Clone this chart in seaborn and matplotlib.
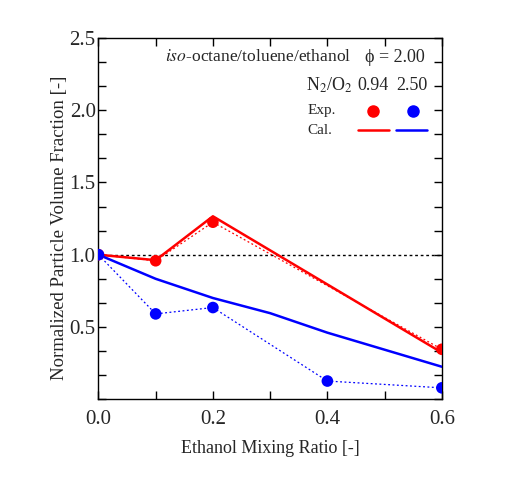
import matplotlib
matplotlib.use("Agg")
import matplotlib.pyplot as plt
import seaborn as sns
import pandas as pd
from matplotlib.ticker import MultipleLocator

sns.set_style("ticks")
plt.rcParams['font.family'] = ['Liberation Serif', 'DejaVu Serif']
plt.rcParams['mathtext.fontset'] = 'stix'

# Data
exp_x_094 = [0.0, 0.1, 0.2, 0.6]
exp_y_094 = [1.0, 0.958, 1.225, 0.345]
cal_x_094 = [0.0, 0.1, 0.2, 0.6]
cal_y_094 = [1.0, 0.962, 1.266, 0.322]

exp_x_250 = [0.0, 0.1, 0.2, 0.4, 0.6]
exp_y_250 = [1.0, 0.59, 0.634, 0.125, 0.078]
cal_x_250 = [0.0, 0.1, 0.2, 0.3, 0.4, 0.6]
cal_y_250 = [1.0, 0.833, 0.70, 0.595, 0.46, 0.224]

red = "#ff0000"
blue = "#0000ff"

fig = plt.figure(figsize=(5.18, 4.82), dpi=100)
ax = fig.add_axes([0.190, 0.172, 0.663, 0.749])

ax.axhline(1.0, color="black", ls=(0, (2, 2)), lw=1.0, zorder=1)

sns.lineplot(x=cal_x_094, y=cal_y_094, ax=ax, color=red, lw=1.8, zorder=3)
sns.lineplot(x=cal_x_250, y=cal_y_250, ax=ax, color=blue, lw=1.8, zorder=3)
sns.lineplot(x=exp_x_094, y=exp_y_094, ax=ax, color=red, lw=0.9, ls=(0, (1.5, 2)), zorder=2)
sns.lineplot(x=exp_x_250, y=exp_y_250, ax=ax, color=blue, lw=0.9, ls=(0, (1.5, 2)), zorder=2)
sns.scatterplot(x=exp_x_094, y=exp_y_094, ax=ax, color=red, s=70, edgecolor="none", zorder=4)
sns.scatterplot(x=exp_x_250, y=exp_y_250, ax=ax, color=blue, s=70, edgecolor="none", zorder=5)

ax.set_xlim(0, 0.6)
ax.set_ylim(0, 2.5)
ax.xaxis.set_minor_locator(MultipleLocator(0.1))
ax.yaxis.set_minor_locator(MultipleLocator(0.5 / 3))
ax.set_xticks([0.0, 0.2, 0.4, 0.6])
ax.set_xticklabels(["0.0", "0.2", "0.4", "0.6"])
ax.set_yticks([0.5, 1.0, 1.5, 2.0, 2.5])
ax.set_yticklabels(["0.5", "1.0", "1.5", "2.0", "2.5"])
ax.tick_params(which="both", direction="in", top=True, right=True, width=1.0, color="black")
ax.tick_params(which="major", length=6, labelsize=15)
ax.tick_params(axis="x", which="major", pad=8)
ax.tick_params(axis="y", which="major", pad=2)
ax.tick_params(which="minor", length=6)
for s in ax.spines.values():
    s.set_linewidth(1.0)
    s.set_color("black")

ax.set_xlabel("Ethanol Mixing Ratio [-]", fontsize=13, labelpad=8)
ax.set_ylabel("Normalized Particle Volume Fraction [-]", fontsize=13.5)
ax.yaxis.set_label_coords(-0.088, 0.475)

# Annotations
tkw = dict(transform=ax.transAxes, fontsize=13, va="center")
ax.text(0.194, 0.947, r"$\it{iso}$-octane/toluene/ethanol", transform=ax.transAxes,
        fontsize=12.6, va="center")
ax.text(0.777, 0.947, "\u03d5 = 2.00", **tkw)
ax.text(0.605, 0.868, r"N$_2$/O$_2$", **tkw)
ax.text(0.754, 0.868, "0.94", **tkw)
ax.text(0.867, 0.868, "2.50", **tkw)
ax.text(0.608, 0.799, "Exp.", fontsize=11, transform=ax.transAxes, va="center")
ax.text(0.608, 0.745, "Cal.", fontsize=11, transform=ax.transAxes, va="center")
ax.plot([0.80], [0.799], "o", color=red, ms=8, transform=ax.transAxes, clip_on=False)
ax.plot([0.917], [0.799], "o", color=blue, ms=8, transform=ax.transAxes, clip_on=False)
ax.plot([0.757, 0.847], [0.745, 0.745], color=red, lw=1.8, transform=ax.transAxes)
ax.plot([0.866, 0.956], [0.745, 0.745], color=blue, lw=1.8, transform=ax.transAxes)

fig.savefig("out.png", dpi=100)
